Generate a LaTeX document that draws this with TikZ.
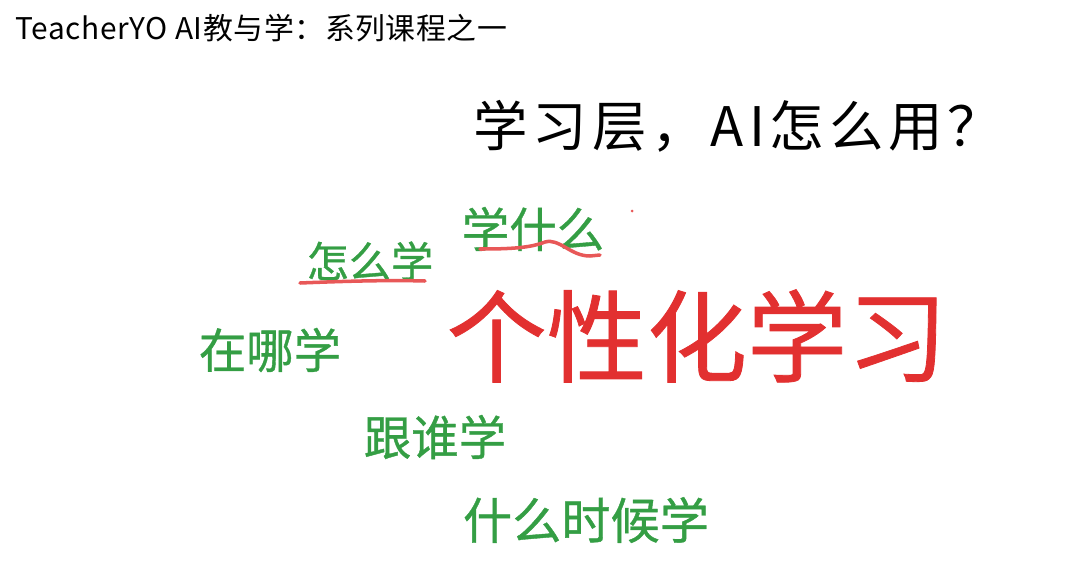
\documentclass[tikz,border=0pt]{standalone}
\usepackage{fontspec}
\newfontfamily\cjk{Noto Sans CJK SC}
\newfontfamily\cjkpen[FakeBold=0.8]{Noto Sans CJK SC}
\newfontfamily\cjkwide[LetterSpace=9]{Noto Sans CJK SC}
\newfontfamily\cjkhead[LetterSpace=2]{Noto Sans CJK SC}
\usepackage{tikz}

\definecolor{penGreen}{RGB}{52,158,68}
\definecolor{penRed}{RGB}{226,48,48}
\definecolor{lineRed}{RGB}{232,88,88}

\tikzset{
  word/.style={inner sep=0pt, text=penGreen, font=\cjkpen\fontsize{27}{27}\selectfont},
  underline/.style={lineRed, line width=2pt, line cap=round}
}

\begin{document}
\begin{tikzpicture}[x=0.02cm, y=-0.02cm]
    \useasboundingbox (0,0) rectangle (1080,585);

    \node[anchor=west, inner sep=0pt, font=\cjkhead\fontsize{17}{17}\selectfont] (series) at (15,28) {TeacherYO AI教与学：系列课程之一};
    \node[inner sep=0pt, font=\cjkwide\fontsize{31}{31}\selectfont] (title) at (738,126) {学习层，AI怎么用？};

    \node[inner sep=0pt, text=penRed, font=\cjkpen\fontsize{57}{57}\selectfont] (core) at (697,336) {个性化学习};

    \node[word] (what) at (533,229) {学什么};
    \node[word, font=\cjkpen\fontsize{24}{24}\selectfont] (how) at (370,261) {怎么学};
    \node[word] (where) at (270,350) {在哪学};
    \node[word] (whom) at (435,437) {跟谁学};
    \node[word, font=\cjkpen\fontsize{28}{28}\selectfont] (when) at (586,520) {什么时候学};

    \coordinate (dot) at (632,211);

    \draw[underline] (300,283) .. controls (350,281) and (390,280) .. (425,281);
    \draw[underline] (480,249) .. controls (510,249) and (530,248) .. (545,242)
        .. controls (560,238) and (570,256) .. (590,256) -- (600,255);
    \fill[lineRed] (dot) circle (1.5);
  \end{tikzpicture}
\end{document}
